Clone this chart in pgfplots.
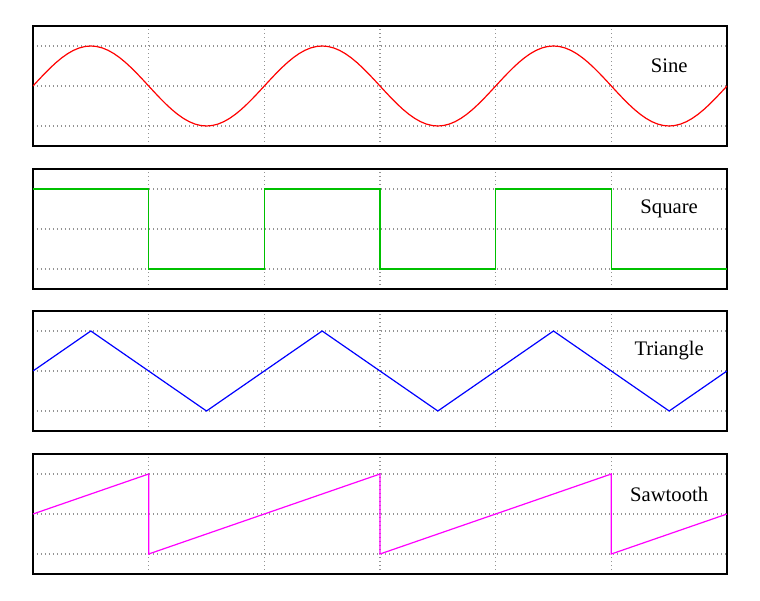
\documentclass[border=0pt]{standalone}
\usepackage{pgfplots}
\pgfplotsset{compat=1.18}
\usepackage{fontspec}
\setmainfont{Liberation Serif}
\definecolor{gpred}{RGB}{255,0,0}
\definecolor{gpgreen}{RGB}{0,192,0}
\definecolor{gpblue}{RGB}{0,0,255}
\definecolor{gpmag}{RGB}{255,0,255}
\pgfplotsset{
  wave/.style={
    scale only axis, width=520.5pt, height=90pt,
    xmin=0, xmax=6, ymin=-1.5, ymax=1.5,
    xtick={1,2,3,4,5}, ytick={-1,0,1},
    xticklabels={}, yticklabels={},
    major tick length=0pt,
    grid=major,
    major grid style={dash pattern=on 0.8pt off 2.2pt, color=gray!85, line width=0.8pt},
    axis line style={line width=1.4pt},
    anchor=north west,
    clip=true,
  }
}
\begin{document}
\begin{tikzpicture}
\path (0pt,0pt) rectangle (570pt,450pt);
\begin{axis}[wave, at={(24.75pt,430.5pt)}]
\addplot[gpred, line width=0.9pt] coordinates {
(0,0)(0.05,0.1564)(0.1,0.3090)(0.15,0.4540)(0.2,0.5878)(0.25,0.7071)(0.3,0.8090)(0.35,0.8910)(0.4,0.9511)(0.45,0.9877)
(0.5,1)(0.55,0.9877)(0.6,0.9511)(0.65,0.8910)(0.7,0.8090)(0.75,0.7071)(0.8,0.5878)(0.85,0.4540)(0.9,0.3090)(0.95,0.1564)
(1,0)(1.05,-0.1564)(1.1,-0.3090)(1.15,-0.4540)(1.2,-0.5878)(1.25,-0.7071)(1.3,-0.8090)(1.35,-0.8910)(1.4,-0.9511)(1.45,-0.9877)
(1.5,-1)(1.55,-0.9877)(1.6,-0.9511)(1.65,-0.8910)(1.7,-0.8090)(1.75,-0.7071)(1.8,-0.5878)(1.85,-0.4540)(1.9,-0.3090)(1.95,-0.1564)
(2,0)(2.05,0.1564)(2.1,0.3090)(2.15,0.4540)(2.2,0.5878)(2.25,0.7071)(2.3,0.8090)(2.35,0.8910)(2.4,0.9511)(2.45,0.9877)
(2.5,1)(2.55,0.9877)(2.6,0.9511)(2.65,0.8910)(2.7,0.8090)(2.75,0.7071)(2.8,0.5878)(2.85,0.4540)(2.9,0.3090)(2.95,0.1564)
(3,0)(3.05,-0.1564)(3.1,-0.3090)(3.15,-0.4540)(3.2,-0.5878)(3.25,-0.7071)(3.3,-0.8090)(3.35,-0.8910)(3.4,-0.9511)(3.45,-0.9877)
(3.5,-1)(3.55,-0.9877)(3.6,-0.9511)(3.65,-0.8910)(3.7,-0.8090)(3.75,-0.7071)(3.8,-0.5878)(3.85,-0.4540)(3.9,-0.3090)(3.95,-0.1564)
(4,0)(4.05,0.1564)(4.1,0.3090)(4.15,0.4540)(4.2,0.5878)(4.25,0.7071)(4.3,0.8090)(4.35,0.8910)(4.4,0.9511)(4.45,0.9877)
(4.5,1)(4.55,0.9877)(4.6,0.9511)(4.65,0.8910)(4.7,0.8090)(4.75,0.7071)(4.8,0.5878)(4.85,0.4540)(4.9,0.3090)(4.95,0.1564)
(5,0)(5.05,-0.1564)(5.1,-0.3090)(5.15,-0.4540)(5.2,-0.5878)(5.25,-0.7071)(5.3,-0.8090)(5.35,-0.8910)(5.4,-0.9511)(5.45,-0.9877)
(5.5,-1)(5.55,-0.9877)(5.6,-0.9511)(5.65,-0.8910)(5.7,-0.8090)(5.75,-0.7071)(5.8,-0.5878)(5.85,-0.4540)(5.9,-0.3090)(5.95,-0.1564)
(6,0)
};
\node[font=\fontsize{15.5}{18}\selectfont, inner sep=0pt] at (axis cs:5.5,0.5) {Sine};
\end{axis}
\begin{axis}[wave, at={(24.75pt,323.25pt)}]
\addplot[gpgreen, line width=0.9pt] coordinates {
(0,1)(1,1)(1,-1)(2,-1)(2,1)(3,1)(3,-1)(4,-1)(4,1)(5,1)(5,-1)(6,-1)
};
\node[font=\fontsize{15.5}{18}\selectfont, inner sep=0pt] at (axis cs:5.5,0.5) {Square};
\end{axis}
\begin{axis}[wave, at={(24.75pt,216.75pt)}]
\addplot[gpblue, line width=0.9pt] coordinates {
(0,0)(0.5,1)(1.5,-1)(2.5,1)(3.5,-1)(4.5,1)(5.5,-1)(6,0)
};
\node[font=\fontsize{15.5}{18}\selectfont, inner sep=0pt] at (axis cs:5.5,0.5) {Triangle};
\end{axis}
\begin{axis}[wave, at={(24.75pt,109.5pt)}]
\addplot[gpmag, line width=0.9pt] coordinates {
(0,0)(1,1)(1,-1)(3,1)(3,-1)(5,1)(5,-1)(6,0)
};
\node[font=\fontsize{15.5}{18}\selectfont, inner sep=0pt] at (axis cs:5.5,0.5) {Sawtooth};
\end{axis}
\end{tikzpicture}
\end{document}
